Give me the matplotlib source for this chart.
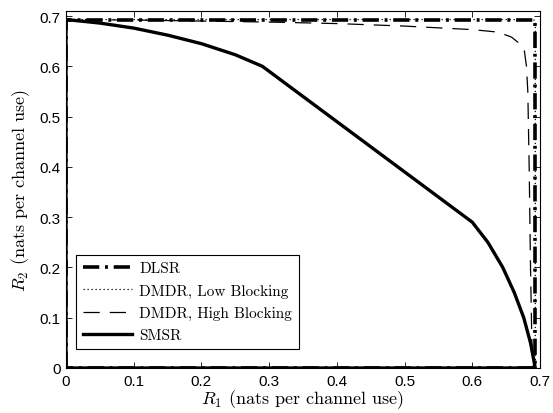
import numpy as np
import matplotlib.pyplot as plt

plt.rcParams['font.family'] = ['Liberation Sans', 'DejaVu Sans']
plt.rcParams['mathtext.fontset'] = 'cm'

# rate region boundaries (nats per channel use), traced counter-clockwise from the origin
dlsr_r1 = [0, 0, 0.693, 0.693, 0]
dlsr_r2 = [0, 0.693, 0.693, 0, 0]

dmdr_low_r1 = [0, 0, 0.690, 0.693, 0.693, 0]
dmdr_low_r2 = [0, 0.693, 0.693, 0.690, 0, 0]

dmdr_high_r1 = [0, 0, 0.1, 0.2, 0.3, 0.4, 0.5, 0.557, 0.6, 0.638, 0.658, 0.670, 0.677,
                0.680, 0.682, 0.684, 0.686, 0.688, 0.690, 0]
dmdr_high_r2 = [0, 0.693, 0.692, 0.690, 0.688, 0.685, 0.680, 0.676, 0.673, 0.668, 0.658,
                0.645, 0.630, 0.600, 0.550, 0.400, 0.200, 0.050, 0, 0]

smsr_r1 = [0, 0, 0.05, 0.1, 0.15, 0.2, 0.25, 0.29, 0.60, 0.623, 0.645, 0.662, 0.676,
           0.686, 0.693, 0]
smsr_r2 = [0, 0.693, 0.686, 0.676, 0.662, 0.645, 0.623, 0.60, 0.29, 0.25, 0.2, 0.15,
           0.1, 0.05, 0, 0]

fig = plt.figure(figsize=(5.53, 4.14), dpi=100)
ax = fig.add_axes([66/553, 45/414, 474/553, 357/414])

ax.plot(dlsr_r1, dlsr_r2, color='k', lw=2.6, ls=(0, (4.5, 1.6, 0.8, 1.6)), label='DLSR')
ax.plot(dmdr_low_r1, dmdr_low_r2, color='k', lw=0.9, ls=(0, (1, 2.2)),
        label='DMDR, Low Blocking')
ax.plot(dmdr_high_r1, dmdr_high_r2, color='k', lw=0.9, ls=(0, (13, 8)),
        label='DMDR, High Blocking')
ax.plot(smsr_r1, smsr_r2, color='k', lw=2.4, ls='-', label='SMSR')

ax.set_xlim(0, 0.7)
ax.set_ylim(0, 0.71)
ax.set_xticks(np.arange(0, 0.71, 0.1))
ax.set_yticks(np.arange(0, 0.71, 0.1))
ax.set_xticklabels(['0', '0.1', '0.2', '0.3', '0.4', '0.5', '0.6', '0.7'])
ax.set_yticklabels(['0', '0.1', '0.2', '0.3', '0.4', '0.5', '0.6', '0.7'])
ax.tick_params(direction='in', top=True, right=True, length=4, width=0.6,
               labelsize=11, pad=4)
for s in ax.spines.values():
    s.set_linewidth(0.8)

ax.set_xlabel(r'$R_1$ (nats per channel use)', family='cmr10', fontsize=13, labelpad=0)
ax.set_ylabel(r'$R_2$ (nats per channel use)', family='cmr10', fontsize=13, labelpad=5)

leg = ax.legend(loc='lower left', bbox_to_anchor=(0.021, 0.053), borderaxespad=0,
                fancybox=False, edgecolor='k', framealpha=1, handlelength=3.2,
                handletextpad=0.5, borderpad=0.45, labelspacing=0.55,
                prop={'family': 'cmr10', 'size': 11})
leg.get_frame().set_linewidth(0.8)

fig.savefig('out.png', dpi=100)
